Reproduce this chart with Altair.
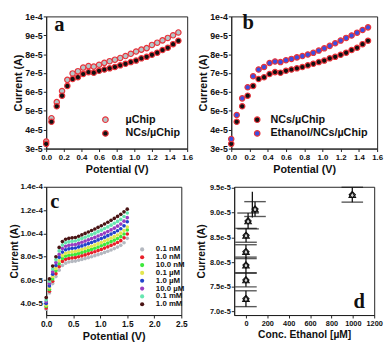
import altair as alt
import pandas as pd

# ---------------- data (currents in units of 1e-5 A) ----------------
potential = [0.00, 0.06, 0.12, 0.18, 0.24, 0.30, 0.36, 0.42, 0.48, 0.54,
             0.60, 0.66, 0.72, 0.78, 0.84, 0.90, 0.96, 1.02, 1.08, 1.14,
             1.20, 1.26, 1.32, 1.38, 1.44, 1.50]

uchip = [3.37, 4.61, 5.46, 6.05, 6.64, 6.98, 7.10, 7.29, 7.37, 7.34,
         7.44, 7.54, 7.63, 7.71, 7.80, 7.90, 8.02, 8.14, 8.24, 8.32,
         8.49, 8.61, 8.73, 8.86, 9.00, 9.15]
ncs_uchip = [3.25, 4.42, 5.24, 5.80, 6.32, 6.69, 6.78, 6.95, 7.05, 7.02,
             7.12, 7.19, 7.25, 7.32, 7.41, 7.49, 7.58, 7.66, 7.78, 7.86,
             7.97, 8.08, 8.22, 8.34, 8.53, 8.71]
ethanol_ncs_uchip = [3.51, 4.78, 5.66, 6.25, 6.83, 7.19, 7.32, 7.53, 7.61, 7.58,
                     7.68, 7.75, 7.83, 7.90, 7.98, 8.07, 8.19, 8.31, 8.44, 8.58,
                     8.72, 8.86, 8.99, 9.14, 9.28, 9.42]

conc_labels = ["0.1 nM", "1.0 nM", "10.0 nM", "0.1 µM", "1.0 µM", "10.0 µM", "0.1 mM", "1.0 mM"]
conc_colors = ["#b4b8c0", "#e8202a", "#3ce83c", "#e2e650", "#2244cc", "#9a3cc0", "#66e6b0", "#4a1414"]
c_01nM = [3.50, 4.90, 5.70, 6.30, 6.85, 7.25, 7.45, 7.55, 7.60, 7.63,
          7.70, 7.77, 7.84, 7.92, 8.00, 8.09, 8.18, 8.27, 8.37, 8.47,
          8.58, 8.70, 8.83, 8.98, 9.20, 9.58]
c_1nM = [3.60, 5.05, 5.90, 6.55, 7.15, 7.60, 7.78, 7.86, 7.90, 7.93,
         8.00, 8.08, 8.16, 8.25, 8.34, 8.43, 8.53, 8.63, 8.74, 8.85,
         8.97, 9.09, 9.22, 9.38, 9.62, 9.95]
c_10nM = [3.75, 5.20, 6.10, 6.80, 7.40, 7.85, 8.05, 8.13, 8.17, 8.20,
          8.28, 8.36, 8.45, 8.54, 8.63, 8.73, 8.83, 8.94, 9.05, 9.17,
          9.29, 9.42, 9.56, 9.72, 9.95, 10.30]
c_01uM = [3.85, 5.35, 6.30, 7.00, 7.65, 8.10, 8.30, 8.38, 8.42, 8.45,
          8.53, 8.62, 8.71, 8.80, 8.90, 9.00, 9.11, 9.22, 9.34, 9.46,
          9.59, 9.72, 9.86, 10.02, 10.25, 10.55]
c_1uM = [4.00, 5.50, 6.50, 7.25, 7.95, 8.40, 8.60, 8.68, 8.72, 8.75,
         8.84, 8.93, 9.02, 9.12, 9.22, 9.33, 9.44, 9.56, 9.68, 9.81,
         9.94, 10.08, 10.23, 10.40, 10.65, 11.00]
c_10uM = [4.15, 5.70, 6.70, 7.50, 8.20, 8.70, 8.90, 8.98, 9.02, 9.05,
          9.14, 9.24, 9.34, 9.44, 9.55, 9.66, 9.78, 9.90, 10.03, 10.16,
          10.30, 10.45, 10.62, 10.80, 11.05, 11.35]
c_01mM = [4.30, 5.90, 6.95, 7.75, 8.50, 9.00, 9.20, 9.28, 9.32, 9.35,
          9.45, 9.56, 9.67, 9.78, 9.90, 10.02, 10.15, 10.28, 10.42, 10.56,
          10.71, 10.87, 11.03, 11.20, 11.45, 11.75]
c_1mM = [4.50, 6.10, 7.20, 8.00, 8.80, 9.30, 9.50, 9.58, 9.62, 9.65,
         9.76, 9.88, 10.00, 10.12, 10.25, 10.38, 10.52, 10.66, 10.81, 10.96,
         11.12, 11.29, 11.46, 11.64, 11.85, 12.08]
c_series = [c_01nM, c_1nM, c_10nM, c_01uM, c_1uM, c_10uM, c_01mM, c_1mM]

d_conc = [0.0001, 0.001, 0.01, 0.1, 1, 20, 85, 995]
d_current = [7.26, 7.64, 7.94, 8.21, 8.54, 8.83, 9.07, 9.36]
d_err = [0.16, 0.14, 0.16, 0.14, 0.14, 0.16, 0.15, 0.15]
d_extra_x = [60]
d_extra_lo = [8.90]
d_extra_hi = [9.42]

tag_text = ["a", "b", "c", "d"]
tag_x = [0.15, 0.186, 0.16, 1060]
tag_y = [9.55, 9.65, 12.67, 7.2]

U = 1e-5
FONT = "Liberation Sans"
RED = "#e8343c"


def xaxis(vals, fmt, title, lfs=8, tfs=11, tpad=2):
    return alt.Axis(values=vals, format=fmt, title=title, labelFontSize=lfs, titleFontSize=tfs,
                    titlePadding=tpad, labelFlush=False, labelOverlap=False, labelPadding=2, tickSize=3)


def yaxis(vals, fmt, title, lfs=9, tfs=11, tpad=1):
    return alt.Axis(values=vals, format=fmt, title=title, labelFontSize=lfs, titleFontSize=tfs,
                    titlePadding=tpad, labelOverlap=False, labelPadding=1, tickSize=3)


def tag(i, xs, ys, xa, ya):
    df = pd.DataFrame({"x": [tag_x[i]], "y": [tag_y[i] * U], "t": [tag_text[i]]})
    return alt.Chart(df).mark_text(font="Liberation Serif", fontWeight="bold", fontSize=21,
                                   color="#111").encode(
        x=alt.X("x:Q", scale=xs, axis=xa), y=alt.Y("y:Q", scale=ys, axis=ya), text="t:N")


ab_x_vals = [0, 0.2, 0.4, 0.6, 0.8, 1.0, 1.2, 1.4, 1.6]
ab_y_vals = [3e-5, 4e-5, 5e-5, 6e-5, 7e-5, 8e-5, 9e-5, 1e-4]
ab_xs = alt.Scale(domain=[0, 1.6], nice=False, zero=False)
ab_ys = alt.Scale(domain=[3e-5, 1e-4], nice=False, zero=False)
ab_xa = xaxis(ab_x_vals, ".1f", "Potential (V)")
ab_ya = yaxis(ab_y_vals, ".0e", "Current (A)")


def iv_panel(names, fills, series, field, legend_x, legend_y, label_off, tag_i, width):
    rows = []
    for n, s in zip(names, series):
        for p, v in zip(potential, s):
            rows.append({"x": p, "y": v * U, field: n})
    df = pd.DataFrame(rows)
    pts = alt.Chart(df).mark_point(shape="circle", filled=True, size=30, strokeWidth=1.2,
                                   opacity=1).encode(
        x=alt.X("x:Q", scale=ab_xs, axis=ab_xa),
        y=alt.Y("y:Q", scale=ab_ys, axis=ab_ya),
        fill=alt.Fill(f"{field}:N", scale=alt.Scale(domain=names, range=fills),
                      legend=alt.Legend(orient="none", legendX=legend_x, legendY=legend_y, title=None,
                                        labelFontSize=11, symbolSize=32, symbolType="circle",
                                        symbolStrokeColor=RED, symbolStrokeWidth=1.2,
                                        rowPadding=2, labelOffset=label_off, padding=0)),
        stroke=alt.Stroke(f"{field}:N", scale=alt.Scale(domain=names, range=[RED, RED]), legend=None),
    )
    return alt.layer(pts, tag(tag_i, ab_xs, ab_ys, ab_xa, ab_ya)).properties(width=width, height=135)


pa = iv_panel(["µChip", "NCs/µChip"], ["#b4c6c8", "#111111"], [uchip, ncs_uchip], "sa", 55, 100, 15, 0, 144)
pb = iv_panel(["NCs/µChip", "Ethanol/NCs/µChip"], ["#111111", "#3a4fe0"], [ncs_uchip, ethanol_ncs_uchip],
              "sb", 21, 100, 8, 1, 149)

# panel c
rows = []
for n, s in zip(conc_labels, c_series):
    for p, v in zip(potential, s):
        rows.append({"x": p, "y": v * U, "sc": n})
dfc = pd.DataFrame(rows)
c_xs = alt.Scale(domain=[0, 2.5], nice=False, zero=False)
c_ys = alt.Scale(domain=[3e-5, 1.4e-4], nice=False, zero=False)
c_xa = xaxis([0, 0.5, 1.0, 1.5, 2.0, 2.5], ".1f", "Potential (V)", lfs=8.5)
c_ya = yaxis([4e-5, 6e-5, 8e-5, 1e-4, 1.2e-4, 1.4e-4], ".1e", "Current (A)", lfs=8, tfs=10.5)
c_pts = alt.Chart(dfc).mark_circle(size=14, opacity=1).encode(
    x=alt.X("x:Q", scale=c_xs, axis=c_xa),
    y=alt.Y("y:Q", scale=c_ys, axis=c_ya),
    color=alt.Color("sc:N", scale=alt.Scale(domain=conc_labels, range=conc_colors),
                    legend=alt.Legend(orient="none", legendX=94, legendY=60, title=None, labelFontSize=8,
                                      symbolSize=18, symbolType="circle", rowPadding=-1.5, labelOffset=10,
                                      padding=0)),
)
pc = alt.layer(c_pts, tag(2, c_xs, c_ys, c_xa, c_ya)).properties(width=138, height=131)

# panel d
dfd = pd.DataFrame({"x": d_conc, "y": [v * U for v in d_current],
                    "lo": [(v - e) * U for v, e in zip(d_current, d_err)],
                    "hi": [(v + e) * U for v, e in zip(d_current, d_err)]})
dfcap = pd.DataFrame({"x": d_conc * 2, "y": list(dfd["lo"]) + list(dfd["hi"])})
dfex = pd.DataFrame({"x": d_extra_x, "lo": [v * U for v in d_extra_lo], "hi": [v * U for v in d_extra_hi]})
d_xs = alt.Scale(domain=[-110, 1200], nice=False, zero=False)
d_ys = alt.Scale(domain=[6.93e-5, 9.52e-5], nice=False, zero=False)
d_xa = xaxis([0, 200, 400, 600, 800, 1000, 1200], "d", "Conc. Ethanol [µM]", lfs=7.5, tfs=10.5)
d_ya = yaxis([7e-5, 7.5e-5, 8e-5, 8.5e-5, 9e-5, 9.5e-5], ".1e", "Current (A)", lfs=7.5, tfs=10.5, tpad=3)
d_rule = alt.Chart(dfd).mark_rule(color="#111", strokeWidth=1.3).encode(
    x=alt.X("x:Q", scale=d_xs, axis=d_xa), y=alt.Y("lo:Q", scale=d_ys, axis=d_ya), y2="hi:Q")
d_rule2 = alt.Chart(dfex).mark_rule(color="#111", strokeWidth=1.3).encode(
    x=alt.X("x:Q", scale=d_xs, axis=d_xa), y=alt.Y("lo:Q", scale=d_ys, axis=d_ya), y2="hi:Q")
d_caps = alt.Chart(dfcap).mark_tick(orient="horizontal", size=22, thickness=1.4, color="#111").encode(
    x=alt.X("x:Q", scale=d_xs, axis=d_xa), y=alt.Y("y:Q", scale=d_ys, axis=d_ya))
d_up = alt.Chart(dfd).mark_point(shape="triangle-up", size=45, fill="#d4d4d4", stroke="#111",
                                  strokeWidth=1.1, opacity=1, fillOpacity=1).encode(
    x=alt.X("x:Q", scale=d_xs, axis=d_xa), y=alt.Y("y:Q", scale=d_ys, axis=d_ya))
d_dia = alt.Chart(dfd).mark_point(shape="diamond", size=40, stroke="#111",
                                   strokeWidth=1.1, opacity=1).encode(
    x=alt.X("x:Q", scale=d_xs, axis=d_xa), y=alt.Y("y:Q", scale=d_ys, axis=d_ya))
pd_ = alt.layer(d_rule, d_rule2, d_caps, d_up, d_dia, tag(3, d_xs, d_ys, d_xa, d_ya)).properties(
    width=143, height=131)

row1 = alt.hconcat(pa, pb, spacing=45, bounds="flush").resolve_scale(fill="independent", stroke="independent")
row2 = alt.hconcat(pc, pd_, spacing=54, bounds="flush").resolve_scale(color="independent")
chart = alt.vconcat(row1, row2, spacing=7).resolve_scale(
    fill="independent", stroke="independent", color="independent"
).properties(padding=0).configure_view(
    stroke="#222", strokeWidth=1
).configure_axis(
    grid=False, domainColor="#222", tickColor="#222", labelColor="#111", titleColor="#111",
    labelFont=FONT, titleFont=FONT, labelFontWeight="bold", titleFontWeight="bold", labelOverlap=False
).configure_legend(
    labelFont=FONT, labelFontWeight="bold", labelColor="#111"
)

chart.save("out.html", embed_options={"renderer": "svg", "actions": False})
